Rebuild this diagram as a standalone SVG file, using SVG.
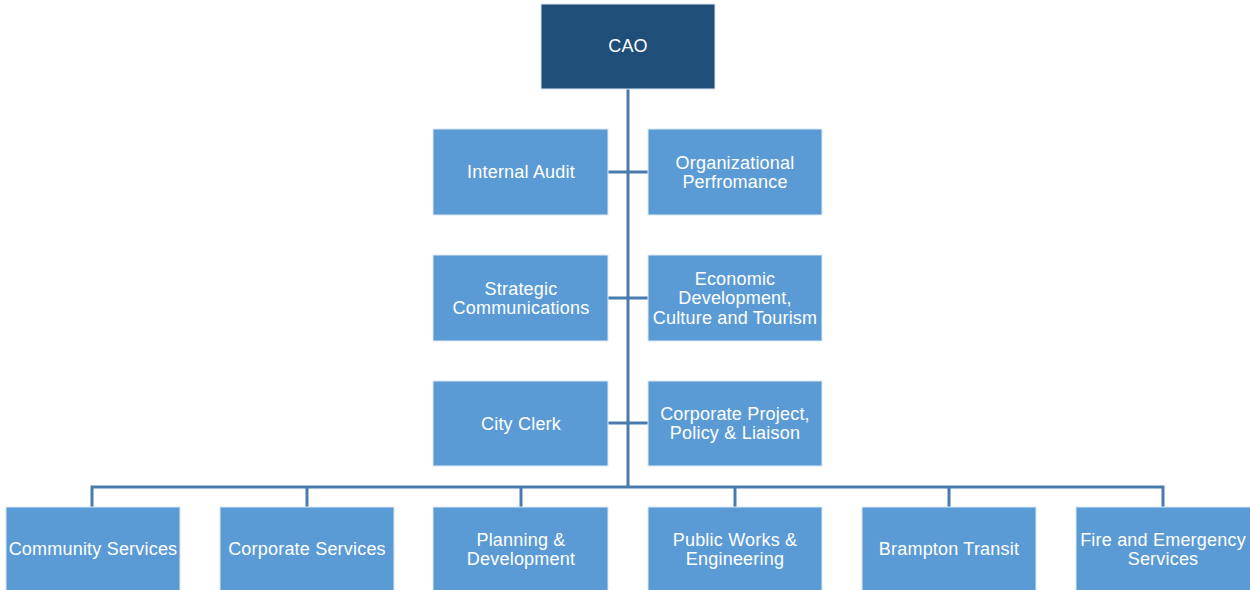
<svg xmlns="http://www.w3.org/2000/svg" width="1250" height="590" viewBox="0 0 1250 590">
<style>
.n{fill:#5B9BD5;stroke:#DCE8F4;stroke-width:1}
.top{fill:#1F4E79;stroke:#DCE8F4;stroke-width:1}
.t{font-family:"Liberation Sans",Arial,sans-serif;font-size:18px;letter-spacing:0.2px;fill:#FFFFFF;text-anchor:middle;dominant-baseline:central}
.c{stroke:#4A7BAE;stroke-width:3;fill:none}
</style>
<rect width="1250" height="590" fill="#FFFFFF"/>
<g id="connectors">
<line class="c" x1="628" y1="89" x2="628" y2="487"/>
<line class="c" x1="608" y1="172" x2="648" y2="172"/>
<line class="c" x1="608" y1="298" x2="648" y2="298"/>
<line class="c" x1="608" y1="423" x2="648" y2="423"/>
<path class="c" d="M92 507 V487 H1163 V507"/>
<line class="c" x1="307" y1="487" x2="307" y2="507"/>
<line class="c" x1="521" y1="487" x2="521" y2="507"/>
<line class="c" x1="735" y1="487" x2="735" y2="507"/>
<line class="c" x1="949" y1="487" x2="949" y2="507"/>
</g>
<g id="cao"><rect class="top" x="541" y="4" width="174" height="85"/><text class="t" x="628" y="46">CAO</text></g>
<g id="internal-audit"><rect class="n" x="433" y="129" width="175" height="86"/><text class="t" x="521" y="172">Internal Audit</text></g>
<g id="org-perf"><rect class="n" x="648" y="129" width="174" height="86"/><text class="t" x="735" y="163">Organizational</text><text class="t" x="735" y="182">Perfromance</text></g>
<g id="strategic-comm"><rect class="n" x="433" y="255" width="175" height="86"/><text class="t" x="521" y="289">Strategic</text><text class="t" x="521" y="308">Communications</text></g>
<g id="econ-dev"><rect class="n" x="648" y="255" width="174" height="86"/><text class="t" x="735" y="279">Economic</text><text class="t" x="735" y="298">Development,</text><text class="t" x="735" y="318">Culture and Tourism</text></g>
<g id="city-clerk"><rect class="n" x="433" y="381" width="175" height="85"/><text class="t" x="521" y="424">City Clerk</text></g>
<g id="corp-project"><rect class="n" x="648" y="381" width="174" height="85"/><text class="t" x="735" y="414">Corporate Project,</text><text class="t" x="735" y="433">Policy &amp; Liaison</text></g>
<g id="community"><rect class="n" x="6" y="507" width="174" height="84"/><text class="t" x="93" y="549">Community Services</text></g>
<g id="corporate"><rect class="n" x="220" y="507" width="174" height="84"/><text class="t" x="307" y="549">Corporate Services</text></g>
<g id="planning"><rect class="n" x="433" y="507" width="175" height="84"/><text class="t" x="521" y="540">Planning &amp;</text><text class="t" x="521" y="559">Development</text></g>
<g id="public-works"><rect class="n" x="648" y="507" width="174" height="84"/><text class="t" x="735" y="540">Public Works &amp;</text><text class="t" x="735" y="559">Engineering</text></g>
<g id="transit"><rect class="n" x="862" y="507" width="174" height="84"/><text class="t" x="949" y="549">Brampton Transit</text></g>
<g id="fire"><rect class="n" x="1076" y="507" width="175" height="84"/><text class="t" x="1163" y="540">Fire and Emergency</text><text class="t" x="1163" y="559">Services</text></g>
</svg>
